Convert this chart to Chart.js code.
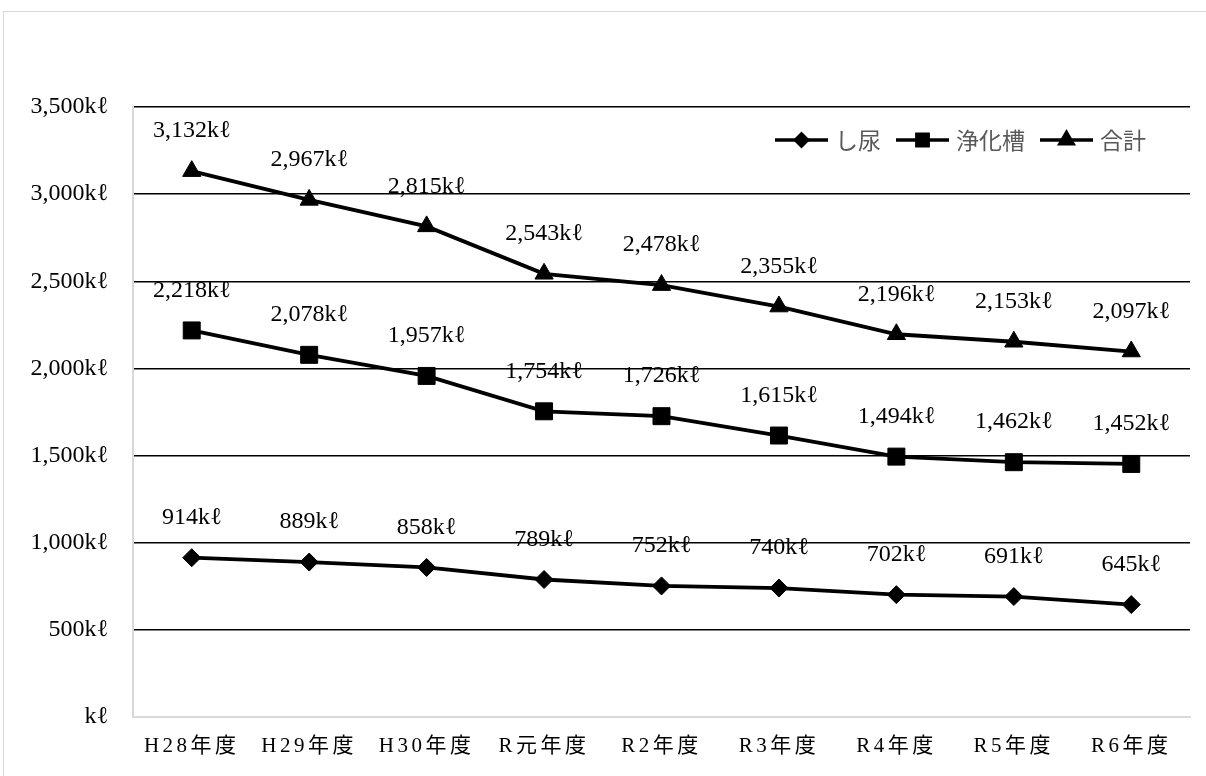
<!DOCTYPE html>
<html>
<head>
<meta charset="utf-8">
<script src="https://cdn.jsdelivr.net/npm/chart.js@4.4.1/dist/chart.umd.min.js"></script>
<style>
  html, body { margin:0; padding:0; background:#fff; overflow:hidden; }
  #wrap { position:relative; width:1206px; height:776px; }
  #frame { position:absolute; left:3px; top:11px; width:1240px; height:820px; border:1.5px solid #d9d9d9; box-sizing:border-box; }
  canvas { position:absolute; left:0; top:0; }
</style>
</head>
<body>
<div id="wrap">
  <div id="frame"></div>
  <canvas id="c" width="1206" height="776"></canvas>
</div>
<script>
const categories = ['H28年度','H29年度','H30年度','R元年度','R2年度','R3年度','R4年度','R5年度','R6年度'];
const shinyo   = [914, 889, 858, 789, 752, 740, 702, 691, 645];
const jokaso   = [2218, 2078, 1957, 1754, 1726, 1615, 1494, 1462, 1452];
const gokei    = [3132, 2967, 2815, 2543, 2478, 2355, 2196, 2153, 2097];
const seriesNames = ['し尿','浄化槽','合計'];
const yTicks = [0, 500, 1000, 1500, 2000, 2500, 3000, 3500];

const SERIF = '"Liberation Serif", "Noto Sans CJK JP", serif';
const SANS = '"Noto Sans CJK JP", sans-serif';
const fmt = v => (v === 0 ? '' : v.toLocaleString('en-US')) + 'kℓ';

const labelPlugin = {
  id: 'valueLabels',
  afterDatasetsDraw(chart) {
    const ctx = chart.ctx;
    ctx.save();
    ctx.font = '24px ' + SERIF;
    ctx.fillStyle = '#000';
    ctx.textAlign = 'center';
    ctx.textBaseline = 'middle';
    chart.data.datasets.forEach((ds, i) => {
      const meta = chart.getDatasetMeta(i);
      meta.data.forEach((pt, j) => {
        ctx.fillText(fmt(ds.data[j]), pt.x, pt.y - 40);
      });
    });
    ctx.restore();
  }
};

const legendPlugin = {
  id: 'innerLegend',
  afterDraw(chart) {
    const ctx = chart.ctx;
    const area = chart.chartArea;
    const y = area.top + 33;
    let x = area.left + 642;
    ctx.save();
    ctx.font = '23px ' + SANS;
    ctx.textBaseline = 'middle';
    chart.data.datasets.forEach((ds) => {
      ctx.strokeStyle = '#000';
      ctx.lineWidth = 3.5;
      ctx.beginPath();
      ctx.moveTo(x, y); ctx.lineTo(x + 53, y);
      ctx.stroke();
      Chart.helpers.drawPoint(ctx, {
        pointStyle: ds.pointStyle, radius: ds.legendRadius, rotation: 0, borderWidth: 1
      }, x + 26.5, y);
      ctx.fillStyle = '#000';
      ctx.fill();
      ctx.fillStyle = '#595959';
      ctx.fillText(ds.label, x + 60, y);
      x += 60 + ctx.measureText(ds.label).width + 15;
    });
    ctx.restore();
  }
};

const mk = (label, data, style, r, lr) => ({
  label, data,
  borderColor: '#000', backgroundColor: '#000',
  borderWidth: 3.8,
  pointStyle: style, pointRadius: r, pointHoverRadius: r,
  pointBackgroundColor: '#000', pointBorderColor: '#000', pointBorderWidth: 1,
  legendRadius: lr,
  tension: 0, clip: false
});

new Chart(document.getElementById('c'), {
  type: 'line',
  data: {
    labels: categories,
    datasets: [
      mk(seriesNames[0], shinyo, 'rectRot', 9, 6),
      mk(seriesNames[1], jokaso, 'rect', 12, 8),
      mk(seriesNames[2], gokei, 'triangle', 10.5, 7.5)
    ]
  },
  options: {
    responsive: false,
    animation: false,
    devicePixelRatio: 1,
    layout: { padding: { left: 0, right: 16, top: 107, bottom: 0 } },
    plugins: { legend: { display: false }, tooltip: { enabled: false } },
    scales: {
      x: {
        offset: true,
        grid: { display: false, drawTicks: false },
        border: { display: true, color: '#d9d9d9', width: 2 },
        ticks: { color: '#000', padding: 17, font: { family: SERIF, size: 21 }, maxRotation: 0, autoSkip: false },
        afterFit(s) { s.height = 59; }
      },
      y: {
        min: 0, max: 3500,
        afterBuildTicks(s) { s.ticks = yTicks.map(v => ({ value: v })); },
        grid: {
          drawTicks: false,
          color: c => c.tick && c.tick.value === 0 ? '#d9d9d9' : '#000',
          lineWidth: c => c.tick && c.tick.value === 0 ? 2 : 1.5
        },
        border: { display: true, color: '#d9d9d9', width: 2 },
        ticks: { color: '#000', padding: 25, font: { family: SERIF, size: 24 }, callback: v => fmt(v) },
        afterFit(s) { s.width = 133; }
      }
    }
  },
  plugins: [labelPlugin, legendPlugin, {
    id: 'xSpacing',
    afterLayout(chart) {
      const s = chart.scales.x;
      if (!s._patched) {
        const orig = s.drawLabels.bind(s);
        s.drawLabels = function(a) {
          chart.ctx.save();
          chart.ctx.letterSpacing = '3.5px';
          orig(a);
          chart.ctx.restore();
        };
        s._patched = true;
      }
    }
  }]
});
</script>
</body>
</html>
